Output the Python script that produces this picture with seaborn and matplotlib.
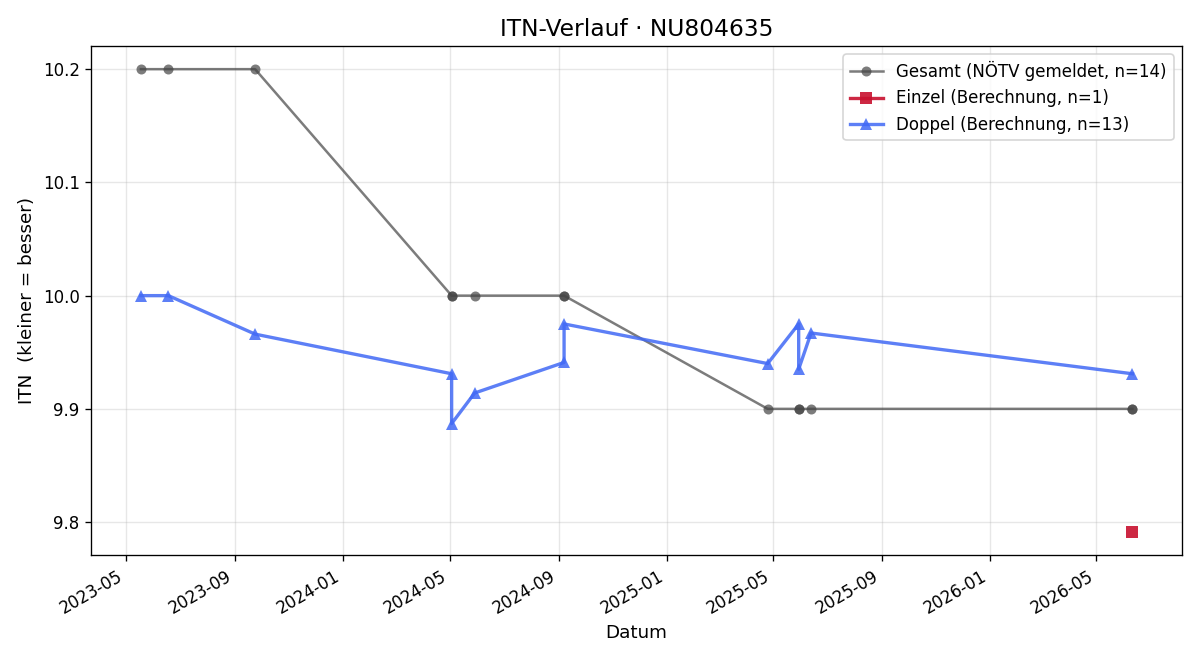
import matplotlib
matplotlib.use("Agg")
import matplotlib.pyplot as plt
import matplotlib.dates as mdates
from matplotlib.ticker import MultipleLocator
import seaborn as sns
import pandas as pd

# Gesamt (NÖTV gemeldet)
gesamt_dates = ["2023-05-18", "2023-06-18", "2023-09-24", "2024-05-03", "2024-05-03",
                "2024-05-29", "2024-09-07", "2024-09-07", "2025-04-25", "2025-05-30",
                "2025-05-30", "2025-06-13", "2026-06-11", "2026-06-11"]
gesamt_itn = [10.2, 10.2, 10.2, 10.0, 10.0, 10.0, 10.0, 10.0, 9.9, 9.9, 9.9, 9.9, 9.9, 9.9]

# Einzel (Berechnung)
einzel_dates = ["2026-06-11"]
einzel_itn = [9.791]

# Doppel (Berechnung)
doppel_dates = ["2023-05-18", "2023-06-18", "2023-09-24", "2024-05-03", "2024-05-03",
                "2024-05-29", "2024-09-07", "2024-09-07", "2025-04-25", "2025-05-30",
                "2025-05-30", "2025-06-13", "2026-06-11"]
doppel_itn = [10.0, 10.0, 9.966, 9.931, 9.887, 9.914, 9.941, 9.975, 9.940, 9.975,
              9.935, 9.967, 9.931]

df_g = pd.DataFrame({"Datum": pd.to_datetime(gesamt_dates), "ITN": gesamt_itn})
df_e = pd.DataFrame({"Datum": pd.to_datetime(einzel_dates), "ITN": einzel_itn})
df_d = pd.DataFrame({"Datum": pd.to_datetime(doppel_dates), "ITN": doppel_itn})

fig, ax = plt.subplots(figsize=(10, 5.5), dpi=120)

sns.lineplot(data=df_g, x="Datum", y="ITN", ax=ax, sort=False, estimator=None,
             color="#444444", alpha=0.7, linewidth=1.5, marker="o", markersize=6,
             markeredgewidth=0, label="Gesamt (NÖTV gemeldet, n=14)")
sns.lineplot(data=df_e, x="Datum", y="ITN", ax=ax, sort=False, estimator=None,
             color="#C8102E", alpha=0.9, linewidth=2, marker="s", markersize=7,
             markeredgewidth=0, label="Einzel (Berechnung, n=1)")
sns.lineplot(data=df_d, x="Datum", y="ITN", ax=ax, sort=False, estimator=None,
             color="#4169F5", alpha=0.85, linewidth=2, marker="^", markersize=7,
             markeredgewidth=0, label="Doppel (Berechnung, n=13)")

ax.set_title("ITN-Verlauf · NU804635", fontsize=14)
ax.set_xlabel("Datum", fontsize=11)
ax.set_ylabel("ITN  (kleiner = besser)", fontsize=11)
ax.grid(True, alpha=0.3)
ax.yaxis.set_major_locator(MultipleLocator(0.1))
ax.xaxis.set_major_locator(mdates.MonthLocator(bymonth=[1, 5, 9]))
ax.xaxis.set_major_formatter(mdates.DateFormatter("%Y-%m"))
ax.legend(loc="upper right")
fig.autofmt_xdate()
fig.tight_layout()
fig.savefig("out.png")
